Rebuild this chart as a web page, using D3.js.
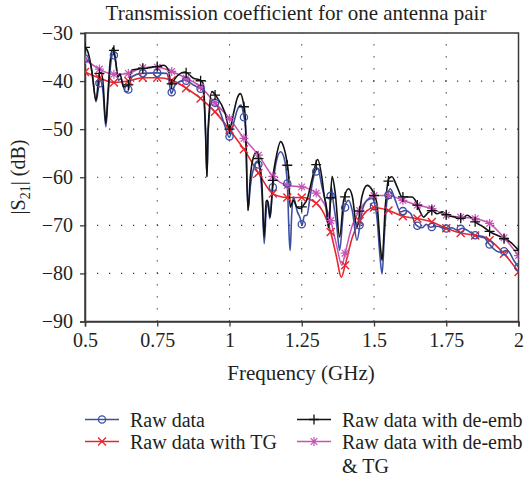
<!DOCTYPE html>
<html><head><meta charset="utf-8">
<script src="https://cdn.jsdelivr.net/npm/d3@7"></script>
<style>
html,body{margin:0;padding:0;background:#fff;}
text{font-family:"Liberation Serif","Times New Roman",serif;fill:#231f20;}
</style></head>
<body><svg id="chart" width="531" height="482"></svg>
<script>
const title = "Transmission coefficient for one antenna pair";
const xTicks = [0.5, 0.75, 1, 1.25, 1.5, 1.75, 2];
const xTickLabels = ["0.5", "0.75", "1", "1.25", "1.5", "1.75", "2"];
const yTicks = [-30, -40, -50, -60, -70, -80, -90];
const yTickLabels = ["\u221230", "\u221240", "\u221250", "\u221260", "\u221270", "\u221280", "\u221290"];
const seriesNames = ["Raw data", "Raw data with TG", "Raw data with de-emb", "Raw data with de-emb"];

// Raw data (blue)
const rawData = [[0.5,-35.3],[0.517,-36.0],[0.528,-40],[0.538,-44.3],[0.552,-39.8],[0.562,-42],[0.572,-49.5],[0.58,-43],[0.588,-37],[0.598,-34.2],[0.606,-36],[0.615,-39.8],[0.625,-39.5],[0.639,-42.2],[0.648,-42.2],[0.662,-39.1],[0.696,-38.4],[0.748,-38.3],[0.783,-38.4],[0.791,-40],[0.798,-42.6],[0.812,-40.8],[0.846,-39.8],[0.875,-40.8],[0.898,-41.5],[0.909,-42],[0.917,-51],[0.922,-59.9],[0.926,-51],[0.939,-44.0],[0.948,-44.3],[0.968,-46.5],[0.985,-49.5],[0.999,-51.7],[1.014,-48.8],[1.027,-46],[1.04,-45.0],[1.048,-46.7],[1.056,-50],[1.064,-66.9],[1.072,-62],[1.082,-58.5],[1.098,-56.8],[1.106,-59],[1.113,-64],[1.12,-73.8],[1.127,-67],[1.134,-65.1],[1.139,-68.6],[1.148,-63],[1.161,-57],[1.177,-54.7],[1.189,-56],[1.2,-61.3],[1.207,-73],[1.21,-75.2],[1.215,-68],[1.221,-64.1],[1.234,-67],[1.245,-68.6],[1.251,-70],[1.259,-68],[1.268,-67.9],[1.279,-64],[1.291,-59.9],[1.305,-58.2],[1.32,-62],[1.331,-64.8],[1.343,-70.4],[1.352,-62],[1.36,-65.5],[1.371,-70],[1.381,-75.2],[1.395,-66.9],[1.412,-64.8],[1.425,-67],[1.441,-73.1],[1.458,-67.2],[1.476,-64.8],[1.493,-64.4],[1.51,-68.3],[1.52,-76],[1.528,-80.1],[1.536,-72],[1.545,-64.8],[1.556,-62.4],[1.574,-64.8],[1.591,-67.2],[1.608,-66.9],[1.626,-67.5],[1.647,-70],[1.667,-70.5],[1.681,-69.8],[1.695,-70.4],[1.719,-70.2],[1.747,-70.7],[1.768,-70.5],[1.788,-71],[1.806,-70.6],[1.822,-71],[1.851,-72.1],[1.88,-72.4],[1.897,-73.8],[1.914,-74.9],[1.938,-75.6],[1.961,-75.2],[1.984,-77.3],[2.0,-78.7]];

// Raw data with TG (red)
const tgData = [[0.5,-38.1],[0.55,-39.4],[0.6,-40.3],[0.65,-40.0],[0.7,-39.3],[0.75,-39.3],[0.8,-39.8],[0.85,-41.5],[0.9,-43.6],[0.95,-46.4],[1.0,-50.1],[1.05,-54.2],[1.1,-59.1],[1.15,-63.4],[1.2,-64.2],[1.25,-64.2],[1.3,-65.4],[1.35,-71.4],[1.37,-76.5],[1.387,-80.8],[1.4,-78.3],[1.425,-72.5],[1.45,-69.1],[1.475,-67],[1.5,-66.3],[1.55,-66.9],[1.6,-68.1],[1.65,-68.6],[1.7,-69.3],[1.75,-70.6],[1.8,-71.6],[1.85,-72.1],[1.9,-73.1],[1.95,-75.9],[2.0,-79.7]];

// Raw data with de-embedding (black)
const deembData = [[0.5,-33.0],[0.51,-33.9],[0.524,-38.0],[0.538,-44.0],[0.55,-38.4],[0.555,-38.2],[0.562,-40],[0.572,-48.8],[0.58,-42],[0.587,-36],[0.598,-33.0],[0.603,-34.5],[0.615,-39.1],[0.621,-38.5],[0.633,-41.2],[0.65,-40.8],[0.662,-37.7],[0.696,-37.4],[0.748,-37.0],[0.771,-36.7],[0.789,-37.7],[0.798,-40.8],[0.812,-39.4],[0.846,-38.1],[0.875,-39.4],[0.898,-39.8],[0.909,-40.5],[0.917,-50],[0.922,-59.9],[0.926,-50],[0.939,-42.2],[0.956,-43.3],[0.985,-46.7],[1.0,-50.0],[1.014,-46.7],[1.027,-43.5],[1.037,-42.6],[1.048,-44.5],[1.054,-47],[1.064,-66.9],[1.072,-60],[1.082,-56],[1.095,-54.7],[1.103,-57],[1.112,-61.3],[1.12,-72.4],[1.127,-65],[1.131,-64.8],[1.141,-68.3],[1.151,-59.8],[1.161,-56],[1.177,-52.6],[1.189,-54],[1.198,-56.5],[1.205,-60],[1.21,-66.2],[1.221,-64.8],[1.233,-66.2],[1.245,-66.5],[1.256,-65.8],[1.269,-64.5],[1.285,-60.6],[1.305,-56.3],[1.32,-60.2],[1.328,-64],[1.335,-66],[1.343,-70.5],[1.355,-59.8],[1.366,-63.4],[1.381,-72.4],[1.395,-64.8],[1.412,-62.4],[1.425,-64],[1.441,-70.4],[1.458,-64.1],[1.476,-61.7],[1.493,-62.6],[1.51,-65.5],[1.522,-74.4],[1.528,-77.3],[1.539,-66.2],[1.551,-60.3],[1.562,-59.9],[1.58,-62],[1.597,-64.1],[1.614,-64.1],[1.632,-64.1],[1.643,-64.8],[1.66,-67.2],[1.672,-68.3],[1.685,-67.5],[1.701,-66.9],[1.718,-67.6],[1.736,-67.2],[1.753,-67.9],[1.782,-68.3],[1.805,-68.6],[1.822,-67.9],[1.857,-69.6],[1.88,-70.4],[1.903,-71.4],[1.938,-72.4],[1.972,-73.5],[2.0,-75.2]];

// Raw data with de-embedding & TG (magenta)
const deembTgData = [[0.5,-35.5],[0.55,-37.5],[0.6,-38.6],[0.65,-38.4],[0.7,-37.2],[0.75,-37.1],[0.8,-38.0],[0.85,-39.4],[0.9,-41.2],[0.95,-44.5],[1.0,-47.8],[1.05,-51.9],[1.1,-55.4],[1.15,-59.8],[1.2,-61.7],[1.25,-62.0],[1.3,-63.3],[1.35,-69.0],[1.37,-74],[1.389,-78.3],[1.4,-75.8],[1.425,-70],[1.45,-66.9],[1.475,-64.8],[1.5,-63.8],[1.55,-63.8],[1.6,-64.8],[1.65,-65.8],[1.7,-66.5],[1.75,-67.9],[1.8,-68.3],[1.85,-68.6],[1.9,-69.6],[1.95,-72.6],[2.0,-76.3]];

const markerFreqs = d3.range(0, 31).map(i => 0.5 + i * 0.05);

const svg = d3.select("#chart");
const M = {left: 85, right: 518.5, top: 33, bottom: 321.5};
const x = d3.scaleLinear().domain([0.5, 2]).range([M.left, M.right]);
const y = d3.scaleLinear().domain([-90, -30]).range([M.bottom, M.top]);

// grid
const grid = svg.append("g").attr("stroke", "#333").attr("stroke-width", 1.1).attr("stroke-dasharray", "1.2,10.8");
grid.selectAll(".gx").data(xTicks.slice(1, -1)).join("line")
  .attr("x1", d => x(d)).attr("x2", d => x(d)).attr("y1", M.bottom).attr("y2", M.top);
grid.selectAll(".gy").data(yTicks.slice(1, -1)).join("line")
  .attr("y1", d => y(d)).attr("y2", d => y(d)).attr("x1", M.left).attr("x2", M.right);

// frame
svg.append("rect").attr("x", M.left).attr("y", M.top).attr("width", M.right - M.left).attr("height", M.bottom - M.top)
  .attr("fill", "none").attr("stroke", "#3a3a3a").attr("stroke-width", 1.5);

// axes
const xAxis = svg.append("g").attr("transform", `translate(0,${M.bottom})`)
  .call(d3.axisBottom(x).tickValues(xTicks).tickFormat((d, i) => xTickLabels[i]).tickSize(5).tickPadding(6));
const yAxis = svg.append("g").attr("transform", `translate(${M.left},0)`)
  .call(d3.axisLeft(y).tickValues(yTicks).tickFormat((d, i) => yTickLabels[i]).tickSize(5).tickPadding(7));
[xAxis, yAxis].forEach(a => {
  a.select(".domain").attr("stroke", "#3a3a3a").attr("stroke-width", 1.5);
  a.selectAll(".tick line").attr("stroke", "#3a3a3a").attr("stroke-width", 1.3);
  a.selectAll("text").style("font-family", '"Liberation Serif",serif').style("font-size", "20px").attr("fill", "#231f20");
});

// clip
svg.append("clipPath").attr("id", "clip").append("rect")
  .attr("x", M.left).attr("y", M.top).attr("width", M.right - M.left).attr("height", M.bottom - M.top);

const line = d3.line().x(d => x(d[0])).y(d => y(d[1])).curve(d3.curveMonotoneX);

function interp(data, f) {
  for (let i = 0; i < data.length - 1; i++) {
    if (f >= data[i][0] - 1e-9 && f <= data[i + 1][0] + 1e-9) {
      const t = (f - data[i][0]) / (data[i + 1][0] - data[i][0]);
      return data[i][1] + t * (data[i + 1][1] - data[i][1]);
    }
  }
  return data[data.length - 1][1];
}

function drawMarker(g, type, cx, cy, color) {
  const s = 4;
  if (type === "circle") {
    g.append("circle").attr("cx", cx).attr("cy", cy).attr("r", 3.6).attr("fill", "none").attr("stroke", color).attr("stroke-width", 1.3);
  } else if (type === "x") {
    g.append("path").attr("d", `M${cx - s},${cy - s}L${cx + s},${cy + s}M${cx - s},${cy + s}L${cx + s},${cy - s}`).attr("stroke", color).attr("stroke-width", 1.4);
  } else if (type === "plus") {
    g.append("path").attr("d", `M${cx - 5},${cy}L${cx + 5},${cy}M${cx},${cy - 5}L${cx},${cy + 5}`).attr("stroke", color).attr("stroke-width", 1.3);
  } else if (type === "star") {
    const a = 3.3;
    g.append("path").attr("d", `M${cx - 4.5},${cy}L${cx + 4.5},${cy}M${cx},${cy - 4.5}L${cx},${cy + 4.5}M${cx - a},${cy - a}L${cx + a},${cy + a}M${cx - a},${cy + a}L${cx + a},${cy - a}`).attr("stroke", color).attr("stroke-width", 1.2);
  }
}

const series = [
  {data: deembTgData, color: "#c653b4", marker: "star", width: 1.5},
  {data: tgData, color: "#e8262d", marker: "x", width: 1.6},
  {data: rawData, color: "#3d4fa1", marker: "circle", width: 1.6},
  {data: deembData, color: "#111111", marker: "plus", width: 1.6}
];

const plot = svg.append("g").attr("clip-path", "url(#clip)");
series.forEach(s => {
  plot.append("path").datum(s.data).attr("d", line).attr("fill", "none").attr("stroke", s.color).attr("stroke-width", s.width).attr("stroke-linejoin", "round");
});
series.forEach(s => {
  const g = plot.append("g");
  markerFreqs.forEach(f => drawMarker(g, s.marker, x(f), y(interp(s.data, f)), s.color));
});

// title
svg.append("text").attr("x", 296).attr("y", 20).attr("text-anchor", "middle")
  .style("font-size", "21px").text(title);
// x label
svg.append("text").attr("x", 301).attr("y", 380).attr("text-anchor", "middle")
  .style("font-size", "21px").text("Frequency (GHz)");
// y label
const yl = svg.append("text").attr("transform", "translate(25,177) rotate(-90)").attr("text-anchor", "middle").style("font-size", "20px");
yl.append("tspan").text("|S");
yl.append("tspan").attr("dy", 5).style("font-size", "14px").text("21");
yl.append("tspan").attr("dy", -5).text("| (dB)");

// legend
const legend = [
  {name: seriesNames[0], color: "#3d4fa1", marker: "circle", lx: 85, ly: 419.5},
  {name: seriesNames[1], color: "#e8262d", marker: "x", lx: 85, ly: 441.5},
  {name: seriesNames[2], color: "#111111", marker: "plus", lx: 297, ly: 419.5},
  {name: seriesNames[3], color: "#c653b4", marker: "star", lx: 297, ly: 441.5}
];
const lg = svg.append("g");
legend.forEach(l => {
  lg.append("line").attr("x1", l.lx).attr("x2", l.lx + 34).attr("y1", l.ly).attr("y2", l.ly).attr("stroke", l.color).attr("stroke-width", 1.5);
  drawMarker(lg, l.marker, l.lx + 17, l.ly, l.color);
  lg.append("text").attr("x", l.lx + 45).attr("y", l.ly + 7).style("font-size", "20px").text(l.name);
});
lg.append("text").attr("x", 342).attr("y", 441.5 + 7 + 24.5).style("font-size", "20px").text("& TG");
</script></body></html>
